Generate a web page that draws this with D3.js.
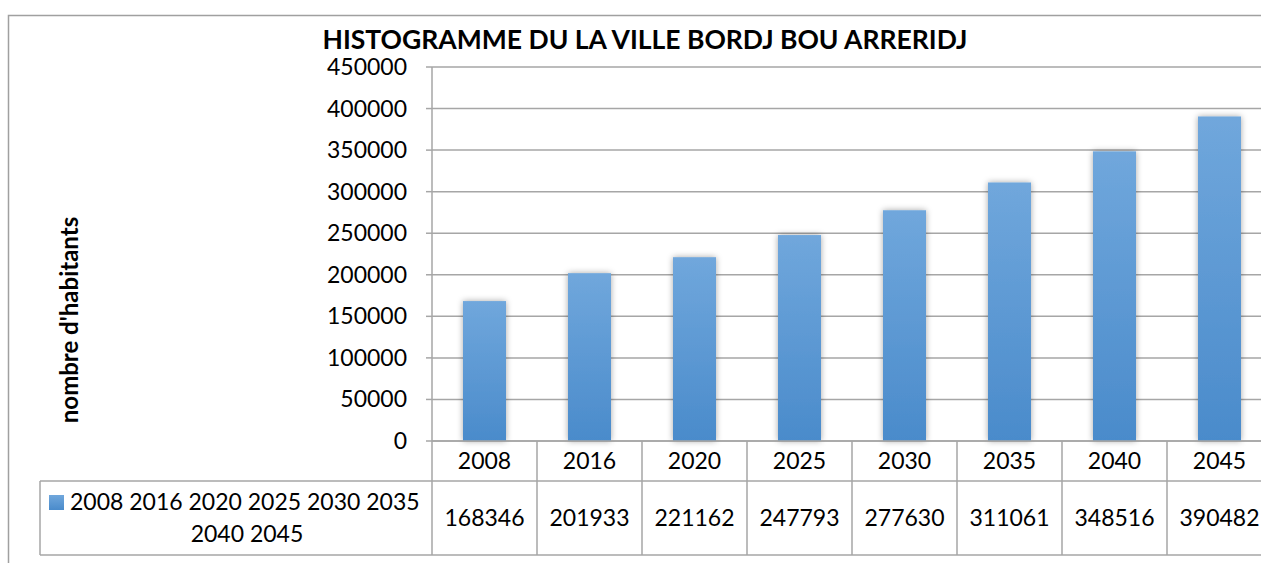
<!DOCTYPE html>
<html><head><meta charset="utf-8">
<script src="https://cdn.jsdelivr.net/npm/d3@7"></script>
<style>body{margin:0;background:#fff;}svg{display:block;font-family:Lato,"Open Sans",sans-serif;}</style>
</head><body>
<svg id="c" width="1261" height="563"></svg>
<script>
const categories = ["2008","2016","2020","2025","2030","2035","2040","2045"];
const values = [168346,201933,221162,247793,277630,311061,348516,390482];
const yTicks = [0,50000,100000,150000,200000,250000,300000,350000,400000,450000];
const title = "HISTOGRAMME DU LA VILLE BORDJ BOU ARRERIDJ";
const yTitle = "nombre d'habitants";
const legendText = ["2008 2016 2020 2025 2030 2035","2040 2045"];

const svg = d3.select("#c");
const L = 432, R = 1272, T = 67, B = 441;
const grid = "#a6a6a6";
const fs = 23;

const defs = svg.append("defs");
const g = defs.append("linearGradient").attr("id","bg").attr("x1",0).attr("y1",0).attr("x2",0).attr("y2",1);
g.append("stop").attr("offset","0%").attr("stop-color","#70a7dc");
g.append("stop").attr("offset","100%").attr("stop-color","#4a8bcb");
const f = defs.append("filter").attr("id","sh").attr("x","-30%").attr("y","-10%").attr("width","160%").attr("height","120%");
f.append("feDropShadow").attr("dx",0).attr("dy",0).attr("stdDeviation",3).attr("flood-color","#000").attr("flood-opacity",0.35);

// outer frame
svg.append("rect").attr("x",8.5).attr("y",15.5).attr("width",1300).attr("height",600)
  .attr("fill","none").attr("stroke","#a0a0a0").attr("stroke-width",1.5);

const x = d3.scaleBand().domain(categories).range([L,R]).paddingInner(0).paddingOuter(0);
const y = d3.scaleLinear().domain([0,450000]).range([B,T]);

// gridlines
svg.append("g").selectAll("line").data(yTicks).join("line")
  .attr("x1",L).attr("x2",R).attr("y1",d=>y(d)).attr("y2",d=>y(d))
  .attr("stroke",grid).attr("stroke-width",1.5);
svg.append("line").attr("x1",L).attr("x2",L).attr("y1",T).attr("y2",B).attr("stroke",grid).attr("stroke-width",1.5);
svg.append("g").selectAll("line").data(yTicks).join("line")
  .attr("x1",L-6).attr("x2",L).attr("y1",d=>y(d)).attr("y2",d=>y(d)).attr("stroke",grid).attr("stroke-width",1.5);

// tick labels
svg.append("g").selectAll("text").data(yTicks).join("text")
  .attr("x",L-25).attr("y",d=>y(d)).attr("dy","0.35em").attr("text-anchor","end")
  .attr("font-size",fs).attr("fill","#000").text(d=>d);

// bars
const bw = 43;
svg.append("g").selectAll("rect").data(values).join("rect")
  .attr("x",(d,i)=>x(categories[i])+x.bandwidth()/2-bw/2)
  .attr("width",bw)
  .attr("y",d=>y(d)).attr("height",d=>B-y(d))
  .attr("fill","url(#bg)").attr("filter","url(#sh)");

// data table
const rowY1 = B, rowY2 = 481, rowY3 = 555, legL = 40;
const tg = svg.append("g").attr("stroke",grid).attr("stroke-width",1.5);
tg.append("line").attr("x1",L).attr("x2",R).attr("y1",rowY1).attr("y2",rowY1);
tg.append("line").attr("x1",legL).attr("x2",R).attr("y1",rowY2).attr("y2",rowY2);
tg.append("line").attr("x1",legL).attr("x2",R).attr("y1",rowY3).attr("y2",rowY3);
tg.append("line").attr("x1",legL).attr("x2",legL).attr("y1",rowY2).attr("y2",rowY3);
tg.selectAll("line.v").data(categories.concat(["end"])).join("line").attr("class","v")
  .attr("x1",(d,i)=>L+i*x.bandwidth()).attr("x2",(d,i)=>L+i*x.bandwidth())
  .attr("y1",rowY1).attr("y2",rowY3);

svg.append("g").selectAll("text").data(categories).join("text")
  .attr("x",d=>x(d)+x.bandwidth()/2).attr("y",(rowY1+rowY2)/2).attr("dy","0.35em")
  .attr("text-anchor","middle").attr("font-size",fs).text(d=>d);
svg.append("g").selectAll("text").data(values).join("text")
  .attr("x",(d,i)=>x(categories[i])+x.bandwidth()/2).attr("y",(rowY2+rowY3)/2).attr("dy","0.35em")
  .attr("text-anchor","middle").attr("font-size",fs).text(d=>d);

// legend
svg.append("rect").attr("x",49).attr("y",495).attr("width",15).attr("height",15).attr("fill","url(#bg)");
svg.append("text").attr("x",70).attr("y",502).attr("dy","0.35em").attr("font-size",fs).text(legendText[0]);
svg.append("text").attr("x",247).attr("y",534).attr("dy","0.35em").attr("text-anchor","middle").attr("font-size",fs).text(legendText[1]);

// titles
svg.append("text").attr("x",645).attr("y",40).attr("dy","0.35em").attr("text-anchor","middle")
  .attr("font-size",26.5).attr("font-weight","bold").text(title);
svg.append("text").attr("transform","translate(70,320) rotate(-90)").attr("dy","0.35em")
  .attr("text-anchor","middle").attr("font-size",24).attr("font-weight","bold").text(yTitle);
</script>
</body></html>
